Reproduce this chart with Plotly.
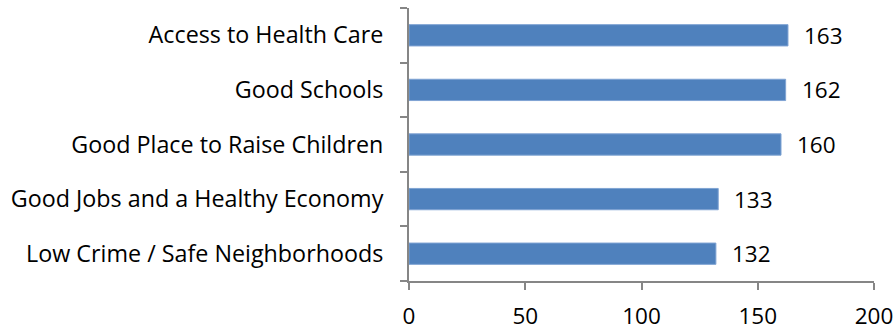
import plotly.graph_objects as go

categories = ["Access to Health Care", "Good Schools", "Good Place to Raise Children",
              "Good Jobs and a Healthy Economy", "Low Crime / Safe Neighborhoods"]
values = [163, 162, 160, 133, 132]
x_ticks = [0, 50, 100, 150, 200]

FONT = "Open Sans"
AXIS = "#868686"
FS = 23.3
NFS = 22.5

fig = go.Figure()
fig.add_trace(go.Bar(
    x=values, y=categories, orientation="h",
    marker=dict(color="#4F81BD", line=dict(color="#7FA3D3", width=1)),
    width=0.39, hoverinfo="skip",
))
for v, c in zip(values, categories):
    fig.add_annotation(x=v, y=c, text=str(v), showarrow=False, xanchor="left",
                       xshift=14, yshift=0, font=dict(family=FONT, size=NFS, color="black"))

fig.update_layout(
    width=896, height=330,
    margin=dict(l=409, r=22, t=8, b=49),
    plot_bgcolor="white", paper_bgcolor="white",
    showlegend=False,
    font=dict(family=FONT, size=FS, color="black"),
)
fig.update_xaxes(range=[0, 200], tickvals=x_ticks, showgrid=False, zeroline=False,
                 showline=True, linecolor=AXIS, linewidth=2, ticks="outside",
                 ticklen=7, tickcolor=AXIS, tickwidth=2, ticklabelstandoff=7,
                 automargin=False,
                 tickfont=dict(family=FONT, size=NFS, color="black"))
fig.update_yaxes(categoryorder="array", categoryarray=categories[::-1],
                 showgrid=False, showline=True, linecolor=AXIS, linewidth=2,
                 ticks="outside", tickson="boundaries", ticklen=7, tickcolor=AXIS,
                 tickwidth=2, ticklabelstandoff=19, automargin=False,
                 tickfont=dict(family=FONT, size=FS, color="black"))

fig.write_html("out.html", config={"displayModeBar": False},
               post_script="document.body.style.margin='0px';")
